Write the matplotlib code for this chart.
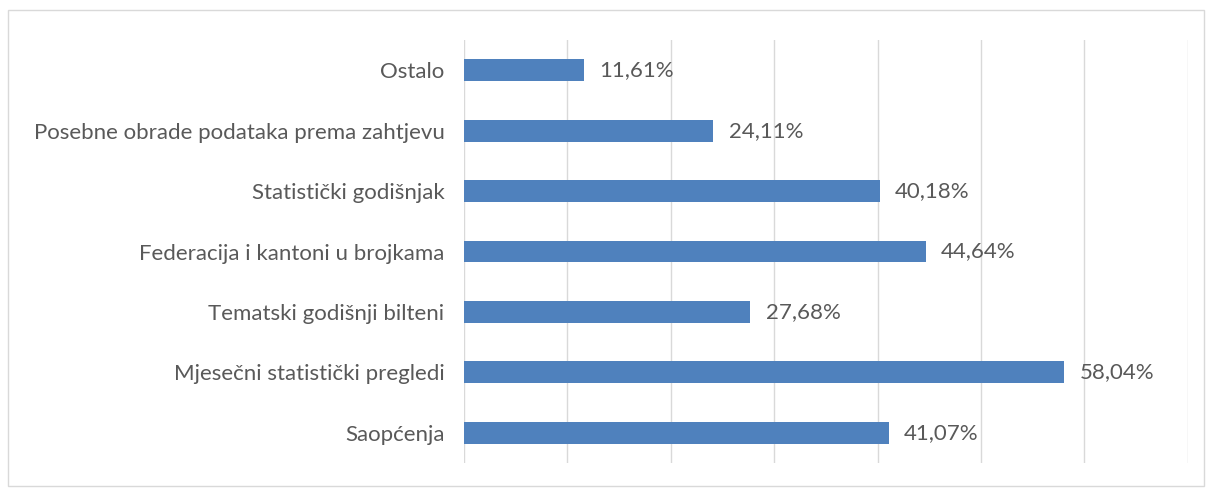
import matplotlib.pyplot as plt
from matplotlib.patches import Rectangle

categories = ['Saopćenja', 'Mjesečni statistički pregledi', 'Tematski godišnji bilteni',
              'Federacija i kantoni u brojkama', 'Statistički godišnjak',
              'Posebne obrade podataka prema zahtjevu', 'Ostalo']
values = [41.07, 58.04, 27.68, 44.64, 40.18, 24.11, 11.61]

plt.rcParams['font.family'] = ['Lato', 'DejaVu Sans']

fig = plt.figure(figsize=(12.06, 4.88), dpi=100)
ax = fig.add_axes([0.3847, 0.0512, 0.6003, 0.8668])

y = range(len(categories))
ax.barh(y, values, height=0.36, color='#4F81BD', zorder=3)
for i, v in enumerate(values):
    ax.text(v + 1.5, i, f'{v:.2f}%'.replace('.', ','), va='center', ha='left',
            fontsize=16, color='#595959')

ax.set_xlim(0, 70)
ax.set_ylim(-0.5, 6.5)
ax.set_xticks(range(0, 71, 10))
ax.set_xticklabels([])
ax.set_yticks(list(y))
ax.set_yticklabels(categories, fontsize=16, color='#595959')
ax.tick_params(axis='both', length=0, pad=14)
ax.grid(axis='x', color='#D9D9D9', linewidth=1, zorder=0)
for s in ax.spines.values():
    s.set_visible(False)

fig.patches.append(Rectangle((8 / 1206, 2 / 488), 1196 / 1206, 476 / 488,
                             transform=fig.transFigure, fill=False,
                             edgecolor='#D9D9D9', linewidth=1))

fig.savefig('out.png', dpi=100)
